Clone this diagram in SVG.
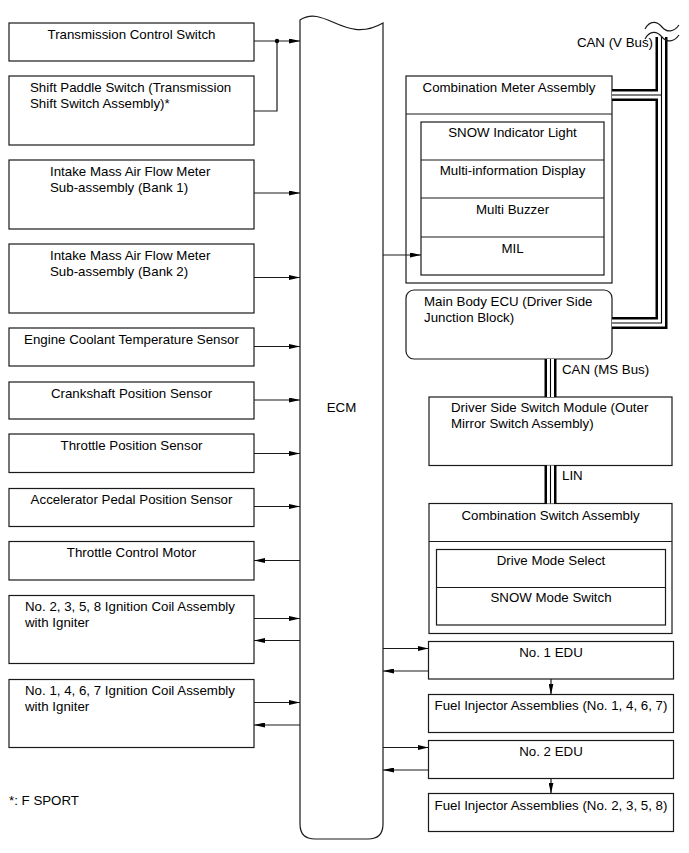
<svg xmlns="http://www.w3.org/2000/svg" width="689" height="853" viewBox="0 0 689 853">
<defs>
<style>
.box{fill:#fff;stroke:#1a1a1a;stroke-width:1.2}
.ln{fill:none;stroke:#1a1a1a;stroke-width:1.2}
.t{font-family:"Liberation Sans",Arial,sans-serif;font-size:13.3px;fill:#000}
.c{text-anchor:middle}
.busA{fill:none;stroke:#000;stroke-width:12}
.busB{fill:none;stroke:#fff;stroke-width:7}
.busC{fill:none;stroke:#000;stroke-width:1.1}
.arr{fill:none;stroke:#1a1a1a;stroke-width:1.2;marker-end:url(#ah)}
</style>
<marker id="ah" viewBox="0 0 11 5" refX="11" refY="2.5" markerWidth="11" markerHeight="5" markerUnits="userSpaceOnUse" orient="auto">
<path d="M0,0 L11,2.5 L0,5 Z" fill="#000"/>
</marker>
</defs>
<rect width="689" height="853" fill="#fff"/>

<g id="ecm">
<path class="box" d="M300,20 C325,4 345,45 383,23 L383,824 Q383,839 368,839 L315,839 Q300,839 300,824 Z"/>
<text class="t c" x="341.5" y="412">ECM</text>
</g>

<g id="transmission-control-switch">
<rect class="box" x="9" y="23" width="245" height="38"/>
<text class="t c" x="131.5" y="38.5">Transmission Control Switch</text>
</g>
<g id="shift-paddle-switch">
<rect class="box" x="9" y="76" width="245" height="69"/>
<text class="t" x="30" y="91.5">Shift Paddle Switch (Transmission</text>
<text class="t" x="30" y="107.5">Shift Switch Assembly)*</text>
</g>
<g id="maf-bank1">
<rect class="box" x="9" y="160" width="245" height="69"/>
<text class="t" x="50" y="176">Intake Mass Air Flow Meter</text>
<text class="t" x="50" y="192">Sub-assembly (Bank 1)</text>
</g>
<g id="maf-bank2">
<rect class="box" x="9" y="244" width="245" height="69"/>
<text class="t" x="50" y="260">Intake Mass Air Flow Meter</text>
<text class="t" x="50" y="276">Sub-assembly (Bank 2)</text>
</g>
<g id="ect-sensor">
<rect class="box" x="9" y="328" width="245" height="38"/>
<text class="t c" x="131.5" y="343.5">Engine Coolant Temperature Sensor</text>
</g>
<g id="ckp-sensor">
<rect class="box" x="9" y="382" width="245" height="37"/>
<text class="t c" x="131.5" y="397.5">Crankshaft Position Sensor</text>
</g>
<g id="tp-sensor">
<rect class="box" x="9" y="434" width="245" height="38.5"/>
<text class="t c" x="131.5" y="449.5">Throttle Position Sensor</text>
</g>
<g id="app-sensor">
<rect class="box" x="9" y="488.5" width="245" height="38"/>
<text class="t c" x="131.5" y="504">Accelerator Pedal Position Sensor</text>
</g>
<g id="throttle-control-motor">
<rect class="box" x="9" y="541.5" width="245" height="38.5"/>
<text class="t c" x="131.5" y="557">Throttle Control Motor</text>
</g>
<g id="ignition-2358">
<rect class="box" x="9" y="595.5" width="245" height="68"/>
<text class="t" x="25" y="611">No. 2, 3, 5, 8 Ignition Coil Assembly</text>
<text class="t" x="25" y="627">with Igniter</text>
</g>
<g id="ignition-1467">
<rect class="box" x="9" y="679.5" width="245" height="68"/>
<text class="t" x="25" y="695">No. 1, 4, 6, 7 Ignition Coil Assembly</text>
<text class="t" x="25" y="711">with Igniter</text>
</g>
<g id="footnote">
<text class="t" x="9" y="805">*: F SPORT</text>
</g>

<g id="combination-meter">
<rect class="box" x="406" y="76" width="206" height="207"/>
<line class="ln" x1="406" y1="114" x2="612" y2="114"/>
<text class="t c" x="509" y="92">Combination Meter Assembly</text>
<rect class="box" x="421" y="122" width="183" height="153"/>
<line class="ln" x1="421" y1="160" x2="604" y2="160"/>
<line class="ln" x1="421" y1="198" x2="604" y2="198"/>
<line class="ln" x1="421" y1="237" x2="604" y2="237"/>
<text class="t c" x="512.5" y="137">SNOW Indicator Light</text>
<text class="t c" x="512.5" y="175">Multi-information Display</text>
<text class="t c" x="512.5" y="213.5">Multi Buzzer</text>
<text class="t c" x="512.5" y="252.5">MIL</text>
</g>
<g id="main-body-ecu">
<rect class="box" x="406" y="290" width="206" height="69" rx="8" ry="8"/>
<text class="t" x="424" y="305.5">Main Body ECU (Driver Side</text>
<text class="t" x="424" y="321.5">Junction Block)</text>
</g>
<g id="driver-side-switch-module">
<rect class="box" x="429" y="397" width="243" height="68.5"/>
<text class="t" x="451" y="411.5">Driver Side Switch Module (Outer</text>
<text class="t" x="451" y="427.5">Mirror Switch Assembly)</text>
</g>
<g id="combination-switch">
<rect class="box" x="429" y="503.5" width="243" height="130"/>
<line class="ln" x1="429" y1="541.5" x2="672" y2="541.5"/>
<text class="t c" x="550.5" y="520">Combination Switch Assembly</text>
<rect class="box" x="436.5" y="549.5" width="229" height="75.5"/>
<line class="ln" x1="436.5" y1="587.5" x2="665.5" y2="587.5"/>
<text class="t c" x="551" y="564.5">Drive Mode Select</text>
<text class="t c" x="551" y="602">SNOW Mode Switch</text>
</g>
<g id="no1-edu">
<rect class="box" x="428.5" y="641.5" width="245" height="37.5"/>
<text class="t c" x="551" y="656.5">No. 1 EDU</text>
</g>
<g id="fuel-injector-1467">
<rect class="box" x="428.5" y="694.5" width="245" height="38"/>
<text class="t c" x="551" y="710">Fuel Injector Assemblies (No. 1, 4, 6, 7)</text>
</g>
<g id="no2-edu">
<rect class="box" x="428.5" y="740.5" width="245" height="38"/>
<text class="t c" x="551" y="755.5">No. 2 EDU</text>
</g>
<g id="fuel-injector-2358">
<rect class="box" x="428.5" y="793.5" width="245" height="38"/>
<text class="t c" x="551" y="809.5">Fuel Injector Assemblies (No. 2, 3, 5, 8)</text>
</g>

<g id="connectors">
<!-- left inputs -->
<path class="arr" d="M254,41 H300"/>
<path class="ln" d="M254,111 H277 V41"/>
<circle cx="277" cy="41" r="2.2" fill="#000"/>
<path class="arr" d="M254,193 H300"/>
<path class="arr" d="M254,277.5 H300"/>
<path class="arr" d="M254,346.5 H300"/>
<path class="arr" d="M254,400 H300"/>
<path class="arr" d="M254,453.5 H300"/>
<path class="arr" d="M254,506.5 H300"/>
<path class="arr" d="M300,560.5 H254"/>
<path class="arr" d="M254,618.5 H300"/>
<path class="arr" d="M300,640.5 H254"/>
<path class="arr" d="M254,702.5 H300"/>
<path class="arr" d="M300,725 H254"/>
<!-- right -->
<path class="arr" d="M383,255 H421"/>
<path class="arr" d="M383,648.5 H428.5"/>
<path class="arr" d="M428.5,671 H383"/>
<path class="arr" d="M551,679 V694.5"/>
<path class="arr" d="M383,747.5 H428.5"/>
<path class="arr" d="M428.5,770 H383"/>
<path class="arr" d="M551,778.5 V793.5"/>
<!-- buses -->
<g id="buses">
<path class="busA" d="M661.5,37 V323 H612"/>
<path class="busA" d="M612,95 H661.5"/>
<path class="busA" d="M550.5,359 V397"/>
<path class="busA" d="M550.5,465.5 V503.5"/>
<path class="busB" d="M661.5,37 V323 H612"/>
<path class="busB" d="M612,95 H661.5"/>
<path class="busB" d="M550.5,359 V397"/>
<path class="busB" d="M550.5,465.5 V503.5"/>
<path class="busC" d="M661.5,37 V323 H612"/>
<path class="busC" d="M612,95 H661.5"/>
<path class="busC" d="M550.5,359 V397"/>
<path class="busC" d="M550.5,465.5 V503.5"/>
</g>
<path class="ln" d="M645,29 C650,20 657,21 662,27 C667,33 674,32 679,25"/>
<path class="ln" d="M645,39 C650,30 657,31 662,37 C667,43 674,42 679,35"/>
<text class="t" x="653" y="47" text-anchor="end">CAN (V Bus)</text>
<text class="t" x="562" y="374">CAN (MS Bus)</text>
<text class="t" x="562" y="480">LIN</text>
</g>
</svg>
